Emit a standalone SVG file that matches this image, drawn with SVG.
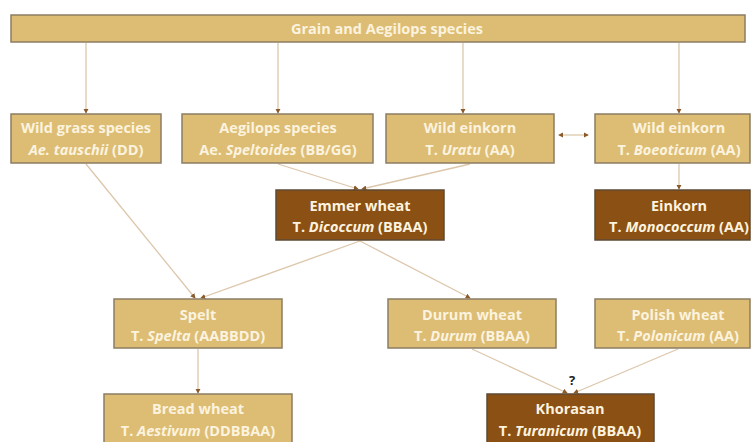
<svg xmlns="http://www.w3.org/2000/svg" width="751" height="442" viewBox="0 0 751 442">
<defs>
<marker id="ah" viewBox="0 0 6 6" refX="5" refY="3" markerWidth="4" markerHeight="4" orient="auto-start-reverse">
<path d="M0,0 L6,3 L0,6 Z" fill="#8a5a2b"/>
</marker>
<style>
.lt{fill:#ddbd74;stroke:#8c7d63;stroke-width:1.5}
.dk{fill:#8b5014;stroke:#5e4a35;stroke-width:1.5}
text{font-family:"Open Sans","Liberation Sans",sans-serif;font-weight:bold;font-size:14.5px;fill:#fbf3df;text-anchor:middle}
.i{font-style:italic}
.c line{stroke:#dcc7ab;stroke-width:1.3;marker-end:url(#ah)}
</style>
</defs>
<rect width="751" height="442" fill="#fff"/>
<g class="c" id="connectors">
<line x1="86" y1="43" x2="86" y2="113"/>
<line x1="278" y1="43" x2="278" y2="113"/>
<line x1="463" y1="43" x2="463" y2="113"/>
<line x1="679" y1="43" x2="679" y2="113"/>
<line x1="559" y1="135" x2="588" y2="135" marker-start="url(#ah)"/>
<line x1="679" y1="164" x2="679" y2="189"/>
<line x1="278" y1="164" x2="358" y2="189"/>
<line x1="470" y1="164" x2="362" y2="189"/>
<line x1="86" y1="164" x2="195" y2="298"/>
<line x1="360" y1="241" x2="201" y2="298"/>
<line x1="360" y1="241" x2="470" y2="298"/>
<line x1="198" y1="349" x2="198" y2="393"/>
<line x1="472" y1="349" x2="567" y2="393"/>
<line x1="678" y1="349" x2="574" y2="393"/>
</g>
<g id="top"><rect class="lt" x="11" y="15" width="734" height="27"/><text x="387" y="34">Grain and Aegilops species</text></g>
<g id="wildgrass"><rect class="lt" x="11" y="114" width="150" height="49"/><text x="86" y="133">Wild grass species</text><text x="86" y="155"><tspan class="i">Ae. tauschii</tspan> (DD)</text></g>
<g id="aegilops"><rect class="lt" x="182" y="114" width="191" height="49"/><text x="278" y="133">Aegilops species</text><text x="278" y="155">Ae. <tspan class="i">Speltoides</tspan> (BB/GG)</text></g>
<g id="uratu"><rect class="lt" x="386" y="114" width="168" height="49"/><text x="470" y="133">Wild einkorn</text><text x="470" y="155">T. <tspan class="i">Uratu</tspan> (AA)</text></g>
<g id="boeoticum"><rect class="lt" x="595" y="114" width="155" height="49"/><text x="679" y="133">Wild einkorn</text><text x="679" y="155">T. <tspan class="i">Boeoticum</tspan> (AA)</text></g>
<g id="emmer"><rect class="dk" x="276" y="190" width="168" height="50"/><text x="360" y="211">Emmer wheat</text><text x="360" y="232">T. <tspan class="i">Dicoccum</tspan> (BBAA)</text></g>
<g id="einkorn"><rect class="dk" x="595" y="190" width="155" height="50"/><text x="679" y="211">Einkorn</text><text x="679" y="232">T. <tspan class="i">Monococcum</tspan> (AA)</text></g>
<g id="spelt"><rect class="lt" x="114" y="299" width="168" height="49"/><text x="198" y="320">Spelt</text><text x="198" y="341">T. <tspan class="i">Spelta</tspan> (AABBDD)</text></g>
<g id="durum"><rect class="lt" x="388" y="299" width="168" height="49"/><text x="472" y="320">Durum wheat</text><text x="472" y="341">T. <tspan class="i">Durum</tspan> (BBAA)</text></g>
<g id="polish"><rect class="lt" x="595" y="299" width="155" height="49"/><text x="678" y="320">Polish wheat</text><text x="678" y="341">T. <tspan class="i">Polonicum</tspan> (AA)</text></g>
<g id="bread"><rect class="lt" x="104" y="394" width="188" height="52"/><text x="198" y="414">Bread wheat</text><text x="198" y="436">T. <tspan class="i">Aestivum</tspan> (DDBBAA)</text></g>
<g id="khorasan"><rect class="dk" x="487" y="394" width="167" height="52"/><text x="570" y="414">Khorasan</text><text x="570" y="436">T. <tspan class="i">Turanicum</tspan> (BBAA)</text></g>
<text x="572" y="385" style="fill:#222;font-size:13px">?</text>
</svg>
